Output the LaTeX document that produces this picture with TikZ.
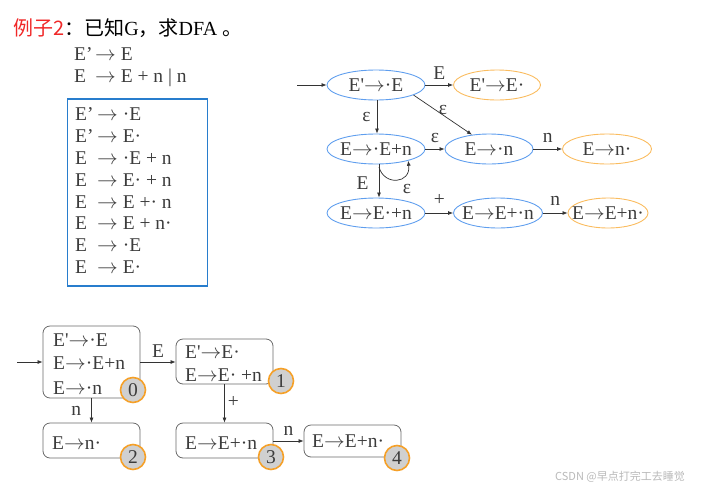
\documentclass[tikz,border=0pt]{standalone}
\usepackage{fontspec}
\setmainfont{Liberation Serif}
\newfontfamily\cjk{Noto Sans CJK SC}
\usetikzlibrary{shapes.geometric,arrows.meta}
\definecolor{eblue}{RGB}{95,158,238}
\definecolor{eorange}{RGB}{250,188,95}
\definecolor{boxblue}{RGB}{40,125,205}
\definecolor{titlered}{RGB}{240,40,40}
\definecolor{cgrey}{RGB}{208,208,208}
\definecolor{corange}{RGB}{245,160,40}
\definecolor{bgrey}{RGB}{105,105,105}
\definecolor{txt}{RGB}{60,60,60}
\definecolor{wm}{RGB}{185,185,185}
\newcommand{\ra}{\ensuremath{\rightarrow}}
\newcommand{\pr}{\textquotesingle}
\newcommand{\ct}[1]{\makebox[0pt][c]{#1}}
\begin{document}
\begin{tikzpicture}[x=1pt,y=-1pt,
  every node/.style={font=\fontsize{19.5}{22}\selectfont, text=txt},
  ell/.style={ellipse, draw=eblue, line width=0.9pt, minimum height=30, inner sep=0pt},
  ellf/.style={ell, draw=eorange},
  arr/.style={-{Latex[length=5pt,width=4pt]}, line width=0.7pt, draw=black!80},
  lbl/.style={inner sep=0pt},
  item/.style={anchor=base west, inner sep=0pt},
  dbox/.style={draw=bgrey, rounded corners=7pt, line width=0.8pt, inner sep=0pt},
  num/.style={circle, fill=cgrey, draw=corange, line width=1.6pt, minimum size=25, inner sep=0pt}
]
\useasboundingbox (0,0) rectangle (719,490);

% title
\node[anchor=base west, inner sep=0pt, font=\fontsize{20}{22}\selectfont, text=black] (title) at (13,35)
  {\textcolor{titlered}{\cjk 例子2}{\cjk ：已知}G{\cjk ，求}DFA {\cjk 。}};

% grammar
\node[item] (g1l) at (74,60) {E’};
\node[item] (g1r) at (95,60) {\ra{} E};
\node[item] (g2l) at (74,82) {E};
\node[item] (g2r) at (95,82) {\ra{} E + n | n};

% item box
\node[draw=boxblue, line width=1.8pt, minimum width=140, minimum height=187, inner sep=0pt] (ibox) at (137.5,192.5) {};
\node[item] (i1l) at (75,120) {E’};
\node[item] (i1r) at (97,120) {\ra{} ·E};
\node[item] (i2l) at (75,142) {E’};
\node[item] (i2r) at (97,142) {\ra{} E·};
\node[item] (i3l) at (75,164) {E};
\node[item] (i3r) at (97,164) {\ra{} ·E + n};
\node[item] (i4l) at (75,186) {E};
\node[item] (i4r) at (97,186) {\ra{} E· + n};
\node[item] (i5l) at (75,208) {E};
\node[item] (i5r) at (97,208) {\ra{} E +· n};
\node[item] (i6l) at (75,229) {E};
\node[item] (i6r) at (97,229) {\ra{} E + n·};
\node[item] (i7l) at (75,251) {E};
\node[item] (i7r) at (97,251) {\ra{} ·E};
\node[item] (i8l) at (75,273) {E};
\node[item] (i8r) at (97,273) {\ra{} E·};

% NFA
\node[ell, minimum width=98] (e1) at (376,85) {\ct{E\pr\ra·E}};
\node[ellf, minimum width=87] (e2) at (497,85) {\ct{E\pr\ra E·}};
\node[ell, minimum width=98] (e3) at (376,149) {\ct{E\ra·E+n}};
\node[ell, minimum width=88] (e4) at (489,149) {\ct{E\ra·n}};
\node[ellf, minimum width=89] (e5) at (607,149) {\ct{E\ra n·}};
\node[ell, minimum width=98] (e6) at (376,213) {\ct{E\ra E·+n}};
\node[ell, minimum width=89] (e7) at (498,213) {\ct{E\ra E+·n}};
\node[ellf, minimum width=80] (e8) at (608,213) {\ct{E\ra E+n·}};

\coordinate (s1) at (297,85);
\draw[arr] (s1) -- (e1);
\draw[arr] (e1) -- (e2) node[lbl, midway, above=5pt] {E};
\draw[arr] (e1.-15) -- (e4.140);
\node[lbl] (epsd) at (443,110) {ε};
\draw[arr] ([xshift=1pt]e1.south) -- ([xshift=1pt]e3.north) node[lbl, midway, left=6pt] {ε};
\draw[arr] (e3) -- (e4) node[lbl, midway, above=6pt] {ε};
\draw[arr] (e4) -- (e5) node[lbl, midway, above=6pt] {n};
\draw[arr] ([xshift=3pt]e3.south) -- ([xshift=3pt]e6.north) node[lbl, pos=0.55, left=10pt] {E};
\coordinate (lp) at (379,167);
\draw[arr] (lp) .. controls (384,186) and (411,184) .. (e3.-20);
\node[lbl] (eps) at (407,189) {ε};
\draw[arr] (e6) -- (e7) node[lbl, midway, above=7pt] {+};
\draw[arr] (e7) -- (e8) node[lbl, midway, above=7pt] {n};

% DFA
\node[dbox, minimum width=97, minimum height=72] (b0) at (91.5,362) {};
\node[dbox, minimum width=97, minimum height=45] (b1) at (224.5,361.5) {};
\node[dbox, minimum width=97, minimum height=35] (b2) at (91.5,440.5) {};
\node[dbox, minimum width=97, minimum height=35] (b3) at (224.5,440.5) {};
\node[dbox, minimum width=97, minimum height=32] (b4) at (352.5,441) {};

\node[item] (t01) at (53,346) {E\pr\ra·E};
\node[item] (t02) at (53,369) {E\ra·E+n};
\node[item] (t03) at (53,394) {E\ra·n};
\node[item] (t11) at (185,358) {E\pr\ra E·};
\node[item] (t12) at (185,381) {E\ra E· +n};
\node[item] (t21) at (52,449) {E\ra n·};
\node[item] (t31) at (185,449) {E\ra E+·n};
\node[item] (t41) at (312,447) {E\ra E+n·};

\node[num] (c0) at (133,390) {0};
\node[num] (c1) at (281,381) {1};
\node[num] (c2) at (133,457) {2};
\node[num] (c3) at (271,457) {3};
\node[num] (c4) at (397,458) {4};

\coordinate (s0) at (17,362);
\draw[arr] (s0) -- (b0.west);
\draw[arr] (b0.east) -- (b1.west |- b0.east) node[lbl, midway, above=4pt] {E};
\draw[arr] (b0.south) -- (b2.north) node[lbl, midway, left=10pt] {n};
\draw[arr] (b1.south) -- (b3.north) node[lbl, pos=0.45, right=3pt] {+};
\draw[arr] (b3.east |- b4.west) -- (b4.west) node[lbl, midway, above=5pt] {n};

% watermark
\node[anchor=west, inner sep=0pt, font=\cjk\fontsize{11}{13}\selectfont, text=wm] (wmark) at (555,477) {CSDN @早点打完工去睡觉};
\end{tikzpicture}
\end{document}
